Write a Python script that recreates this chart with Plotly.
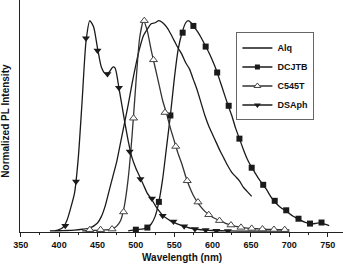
import plotly.graph_objects as go

# ---------------- data ----------------
alq_x = [388, 400, 410, 420, 430, 440, 450, 455, 460, 465, 470, 475, 480, 485, 490, 495,
         500, 505, 510, 515, 520, 525, 530, 535, 540, 545, 550, 555, 560, 565, 570, 575,
         580, 585, 590, 595, 600, 605, 610, 615, 620, 625, 630, 635, 640, 645, 651]
alq_y = [0.002, 0.003, 0.004, 0.006, 0.01, 0.016, 0.04, 0.07, 0.12, 0.19, 0.26, 0.33, 0.42,
         0.51, 0.6, 0.7, 0.79, 0.87, 0.93, 0.96, 0.985, 0.99, 1.0, 0.99, 0.97, 0.94, 0.905,
         0.87, 0.84, 0.8, 0.77, 0.72, 0.67, 0.61, 0.55, 0.5, 0.46, 0.42, 0.38, 0.345, 0.31,
         0.28, 0.26, 0.24, 0.21, 0.19, 0.166]

dcjtb_x = [490, 500, 510, 515, 520, 525, 530, 535, 540, 545, 550, 555, 560, 565, 568, 572,
           575, 580, 585, 590, 595, 600, 605, 610, 615, 620, 625, 630, 635, 640, 645, 650,
           655, 660, 665, 670, 675, 680, 685, 690, 695, 700, 705, 710, 715, 720, 725, 730,
           735, 740, 745, 752]
dcjtb_y = [0.002, 0.008, 0.012, 0.018, 0.035, 0.07, 0.14, 0.25, 0.4, 0.55, 0.72, 0.86, 0.94,
           0.99, 1.0, 0.99, 0.975, 0.95, 0.92, 0.885, 0.85, 0.81, 0.765, 0.71, 0.655, 0.6,
           0.55, 0.49, 0.44, 0.39, 0.345, 0.31, 0.28, 0.25, 0.225, 0.2, 0.17, 0.145, 0.125,
           0.11, 0.1, 0.085, 0.072, 0.062, 0.052, 0.044, 0.038, 0.036, 0.038, 0.04, 0.035,
           0.027]
dcjtb_mx = [500, 515, 530, 545, 561, 575, 591, 606, 621, 635, 651, 666, 681, 696, 712, 727, 742]
dcjtb_my = [0.008, 0.018, 0.14, 0.55, 0.943, 0.975, 0.877, 0.754, 0.596, 0.44, 0.302, 0.221,
            0.145, 0.1, 0.06, 0.037, 0.042]

c545t_x = [430, 440, 450, 460, 470, 475, 480, 485, 490, 495, 500, 505, 510, 515, 520, 525,
           530, 535, 540, 545, 550, 555, 560, 565, 570, 575, 580, 585, 590, 595, 600, 610,
           620, 630, 640, 650, 660, 670, 680, 690, 700]
c545t_y = [0.002, 0.004, 0.005, 0.007, 0.012, 0.025, 0.05, 0.12, 0.25, 0.45, 0.7, 0.92, 1.0,
           0.95, 0.86, 0.78, 0.7, 0.62, 0.56, 0.49, 0.43, 0.37, 0.32, 0.26, 0.21, 0.17, 0.14,
           0.115, 0.095, 0.08, 0.067, 0.05, 0.034, 0.024, 0.018, 0.014, 0.012, 0.01, 0.009,
           0.008, 0.007]
c545t_mx = [440, 454, 469, 484, 497, 511, 523, 538, 552, 567, 581, 595, 609, 624, 637, 651,
            665, 680, 694]
c545t_my = [0.008, 0.008, 0.011, 0.092, 0.537, 1.0, 0.814, 0.564, 0.403, 0.24, 0.139, 0.079,
            0.051, 0.03, 0.019, 0.014, 0.011, 0.009, 0.008]

dsaph_x = [395, 400, 405, 410, 415, 420, 425, 430, 435, 440, 445, 450, 455, 460, 465, 470,
           473, 478, 485, 490, 495, 500, 505, 510, 515, 520, 525, 530, 535, 540, 545, 550,
           560, 570, 580, 590, 600, 620, 650, 700]
dsaph_y = [0.003, 0.008, 0.018, 0.05, 0.11, 0.18, 0.35, 0.62, 0.9, 1.0, 0.97, 0.87, 0.78,
           0.75, 0.755, 0.78, 0.775, 0.68, 0.53, 0.43, 0.35, 0.3, 0.26, 0.22, 0.18, 0.155,
           0.125, 0.098, 0.076, 0.062, 0.05, 0.042, 0.027, 0.016, 0.01, 0.006, 0.004, 0.002,
           0.001, 0.001]
dsaph_mx = [408, 422, 435, 450, 463, 478, 492, 506, 521, 535, 549, 563, 577, 591, 605, 620]
dsaph_my = [0.027, 0.237, 0.916, 0.858, 0.747, 0.682, 0.379, 0.248, 0.156, 0.074, 0.047,
            0.024, 0.011, 0.006, 0.003, 0.002]

x_ticks = [350, 400, 450, 500, 550, 600, 650, 700, 750]
series_names = ["Alq", "DCJTB", "C545T", "DSAph"]

# ---------------- figure ----------------
FONT = "Liberation Sans, Arial, sans-serif"
LC = "#1a1a1a"
LW = 1.3

fig = go.Figure()

# lines
for xs, ys, col in [(alq_x, alq_y, LC), (dcjtb_x, dcjtb_y, LC),
                    (c545t_x, c545t_y, "#333333"), (dsaph_x, dsaph_y, LC)]:
    fig.add_trace(go.Scatter(x=xs, y=ys, mode="lines", showlegend=False,
                             line=dict(color=col, width=LW, shape="spline", smoothing=0.6),
                             hoverinfo="skip"))

# markers
fig.add_trace(go.Scatter(x=dcjtb_mx, y=dcjtb_my, mode="markers", showlegend=False,
                         marker=dict(symbol="square", size=6, color=LC)))
fig.add_trace(go.Scatter(x=c545t_mx, y=c545t_my, mode="markers", showlegend=False,
                         marker=dict(symbol="triangle-up", size=7, color="white",
                                     line=dict(color="#444444", width=1))))
fig.add_trace(go.Scatter(x=dsaph_mx, y=dsaph_my, mode="markers", showlegend=False,
                         marker=dict(symbol="triangle-down", size=7, color=LC)))

# legend entries
fig.add_trace(go.Scatter(x=[None], y=[None], mode="lines", name=series_names[0],
                         line=dict(color=LC, width=LW)))
fig.add_trace(go.Scatter(x=[None], y=[None], mode="lines+markers", name=series_names[1],
                         line=dict(color=LC, width=LW),
                         marker=dict(symbol="square", size=5, color=LC)))
fig.add_trace(go.Scatter(x=[None], y=[None], mode="lines+markers", name=series_names[2],
                         line=dict(color="#333333", width=LW),
                         marker=dict(symbol="triangle-up", size=6, color="white",
                                     line=dict(color="#444444", width=1))))
fig.add_trace(go.Scatter(x=[None], y=[None], mode="lines+markers", name=series_names[3],
                         line=dict(color=LC, width=LW),
                         marker=dict(symbol="triangle-down", size=6, color=LC)))

fig.update_layout(
    width=343, height=268,
    margin=dict(l=20, r=0, t=0, b=36),
    paper_bgcolor="white", plot_bgcolor="white",
    font=dict(family=FONT, size=9, color="#111111"),
    showlegend=True,
    legend=dict(x=0.67, y=0.86, xanchor="left", yanchor="top",
                bgcolor="white", bordercolor="#666666", borderwidth=1,
                font=dict(family=FONT, size=9, weight="bold", color="#111111"),
                itemwidth=30, tracegroupgap=0),
    xaxis=dict(range=[349, 770], tickvals=x_ticks, ticktext=[str(v) for v in x_ticks],
               showgrid=False, zeroline=False, showline=True, linecolor="#222222",
               linewidth=1.2, ticks="outside", ticklen=4, tickwidth=1, tickcolor="#222222",
               tickfont=dict(family=FONT, size=9, weight="bold"),
               minor=dict(ticks="outside", ticklen=2, tickwidth=1, tickcolor="#222222",
                          dtick=25, tick0=325)),
    yaxis=dict(range=[-0.003, 1.098], showgrid=False, zeroline=False, showline=True,
               linecolor="#222222", linewidth=1.2, showticklabels=False, ticks=""),
    annotations=[
        dict(text="Wavelength (nm)", xref="paper", yref="paper", x=0.5, y=0,
             yshift=-25, xanchor="center", yanchor="middle", showarrow=False,
             font=dict(family=FONT, size=10, weight="bold", color="#111111")),
        dict(text="Normalized PL Intensity", xref="paper", yref="paper", x=0, y=0.48,
             xshift=-14, xanchor="center", yanchor="middle", textangle=-90,
             showarrow=False,
             font=dict(family=FONT, size=10, weight="bold", color="#111111")),
    ],
)

fig.write_html("out.html")
